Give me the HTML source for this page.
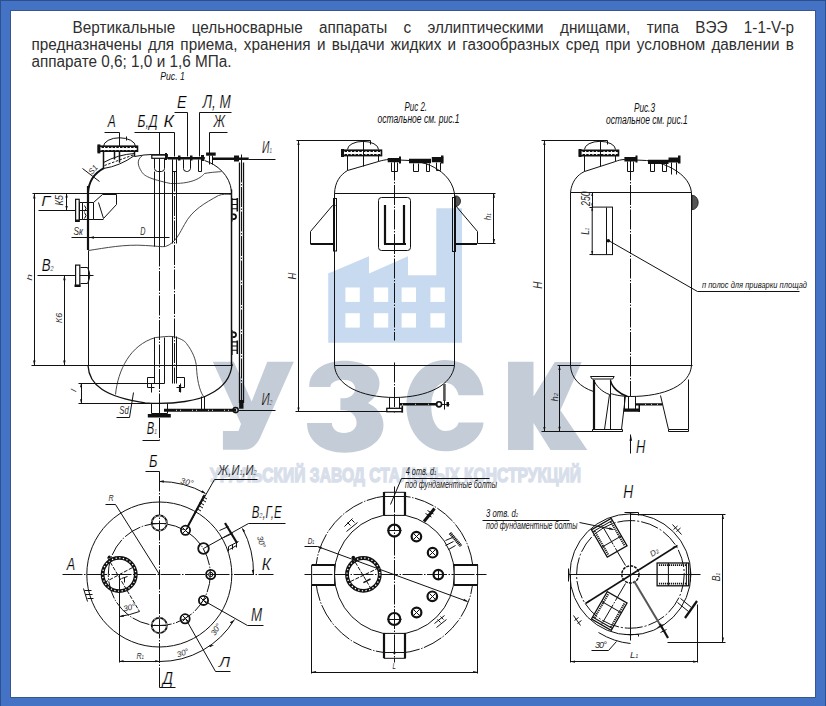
<!DOCTYPE html>
<html><head><meta charset="utf-8">
<style>
html,body{margin:0;padding:0;width:826px;height:706px;overflow:hidden;background:#4472c4;}
#frame{position:absolute;left:10px;top:10px;width:806px;height:688px;background:#fff;border:1px solid #37588f;box-sizing:border-box;}
#ol{position:absolute;left:0;top:0;width:826px;height:706px;box-sizing:border-box;border-left:1px solid #2c5191;border-top:1px solid #2c4f8c;border-right:1px solid #2c5191;}
#txt{position:absolute;left:31.5px;top:18.6px;width:762.5px;font-family:"Liberation Sans",sans-serif;font-size:15.3px;line-height:15.45px;transform:scaleY(1.1);transform-origin:0 0;color:#2e2e2e;text-align:justify;text-indent:41px;}
svg{position:absolute;left:0;top:0;}
.t{fill:none;stroke:#111;stroke-width:1;}
.t2{fill:none;stroke:#333;stroke-width:0.9;}
.m{fill:none;stroke:#111;stroke-width:1.5;}
.k{fill:none;stroke:#111;stroke-width:2.2;}
.k2{fill:#fff;stroke:#111;stroke-width:1.6;}
.wd{fill:none;stroke:#111;stroke-width:1;}
.dd{fill:none;stroke:#111;stroke-width:1;stroke-dasharray:20,1.5,1.5,1.5;}
.dd2{fill:none;stroke:#fff;stroke-width:1;stroke-dasharray:20,1.5,1.5,1.5;}
.f{fill:#111;stroke:none;}
text{font-family:"Liberation Sans",sans-serif;font-style:italic;fill:#111;}
.big{font-size:15px;fill:#000;stroke:#fff;stroke-width:0.2;}
.sm{font-size:8px;fill:#2a2a2a;}
.lbl{font-size:9px;}
.wm{fill:#c4cdd7;}
.wb{fill:#c8daf0;}
</style></head><body>
<div id="ol"></div><div id="frame"></div>
<svg id="wm" width="826" height="706" viewBox="0 0 826 706"><g>
<!-- building -->
<path class="wb" d="M328.2,273.5 L369,256.3 V273.5 L408,256.3 V275.3 H436.3 V208.3 H462 V342.7 H328.2 Z"/>
<g fill="#fff">
<rect x="345.4" y="287.5" width="14.4" height="14.4"/><rect x="373.8" y="287.5" width="14.4" height="14.4"/><rect x="401.6" y="287.5" width="14.4" height="14.4"/><rect x="430.4" y="287.5" width="14.4" height="14.4"/>
<rect x="345.4" y="313.2" width="14.4" height="14.4"/><rect x="373.8" y="313.2" width="14.4" height="14.4"/><rect x="401.6" y="313.2" width="14.4" height="14.4"/><rect x="430.4" y="313.2" width="14.4" height="14.4"/>
</g>
<!-- letters -->
<path class="wm" d="M212.8,361.7 H233.8 L251.7,401.4 L267.3,361.7 H293.8 L260,438 C256,446 251,449.7 243,449.7 H222.9 V431 H238.5 L241,424 Z"/>
<path class="wm" d="M309.2,386.9 C309.2,370 325,360.7 344.5,360.7 C365,360.7 379.5,370 379.5,383 C379.5,392 374,399 368,403 C376,407 383.5,414 383.5,425 C383.5,442 366,452.7 345,452.7 C322,452.7 307,441 307,423 H331.9 C331.9,429 337,433 344,433 C351,433 356.6,429 356.6,423 C356.6,416 351,410.2 344,410.2 H340.4 V398.2 H344 C350,398.2 355.2,394 355.2,389 C355.2,383 350,379.8 343,379.8 C336,379.8 330.4,383 330.4,386.9 Z"/>
<path class="wm" d="M483.5,395.2 C483,374 466,360.1 445,360.1 C423,360.1 406.4,380 406.4,405.7 C406.4,431 423,451.3 445,451.3 C466,451.3 483,437 483.5,422.5 H458.6 C457,428 452,431 445,431 C437,431 431.3,420 431.3,406.8 C431.3,393 437,382.7 445,382.7 C452,382.7 457,388 458.6,395.2 Z"/>
<path class="wm" d="M508,361.7 H533.5 V396.5 L554.8,362.1 H581.7 L560.4,410.3 L587.3,450 H550.5 L533.5,423 V450 H508 Z"/>
<text x="210" y="482" textLength="371" lengthAdjust="spacingAndGlyphs" style="font-family:'Liberation Sans';font-style:normal;font-weight:bold;font-size:20.5px;fill:#d8dfeb;stroke:#d8dfeb;stroke-width:1.4">УРАЛЬСКИЙ ЗАВОД СТАЛЬНЫХ КОНСТРУКЦИЙ</text>
</g>
</svg>
<div id="txt">Вертикальные цельносварные аппараты с эллиптическими днищами, типа ВЭЭ 1-1-V-р предназначены для приема, хранения и выдачи жидких и газообразных сред при условном давлении в аппарате 0,6; 1,0 и 1,6 МПа.</div>
<svg width="826" height="706" viewBox="0 0 826 706">
<!-- FIG 1 -->
<g id="fig1">
<text class="lbl" x="160.3" y="79.9" style="font-size:11.8px" textLength="24.5" lengthAdjust="spacingAndGlyphs">Рис. 1</text>
<!-- labels -->
<text class="big" x="107.7" y="127.0" style="font-size:16.4px" textLength="8.0" lengthAdjust="spacingAndGlyphs">А</text>
<text class="big" x="137.6" y="127.0" style="font-size:17.4px" textLength="19.9" lengthAdjust="spacingAndGlyphs">Б,Д</text>
<text class="big" x="163.6" y="127.0" style="font-size:17.4px" textLength="10.3" lengthAdjust="spacingAndGlyphs">К</text>
<text class="big" x="177.1" y="107.8" style="font-size:17.3px" textLength="9.6" lengthAdjust="spacingAndGlyphs">Е</text>
<text class="big" x="202.7" y="107.8" style="font-size:17.6px" textLength="28.0" lengthAdjust="spacingAndGlyphs">Л, М</text>
<text class="big" x="213.4" y="127.0" style="font-size:17.3px" textLength="11.5" lengthAdjust="spacingAndGlyphs">Ж</text>
<text class="big" x="262.0" y="153.4" style="font-size:16.3px" textLength="9.9" lengthAdjust="spacingAndGlyphs">И<tspan style="font-size:7px">1</tspan></text>
<!-- leaders -->
<path class="t" d="M 104.5 132.5 H 119.5 V 162.5 M 134.5 132.5 H 174.5 M 159.5 132.5 V 246.5 M 174.5 132.5 V 156.5 M 174.5 112.5 H 187.5 V 156.5 M 199.5 112.5 H 231.5 M 199.5 112.5 V 156.5 M 209.5 132.5 H 227.5 M 209.5 132.5 V 153.5"/>
<!-- manhole A -->
<path class="t" d="M 103.5 146.5 A 15.6 8.5 0 0 1 135.5 146.5"/>
<path class="t" d="M 126.5 136.5 V 140.5"/>
<rect class="k2" x="98.5" y="146.2" width="39" height="5"/>
<path class="f" d="M97.4,144.4h3v9h-3z"/>
<path class="wd" d="M 101.5 147.5 H 137.5 M 101.5 150.5 H 137.5" stroke-dasharray="2.5,1.2"/>
<path class="m" d="M 103.5 151.5 V 168.5 M 134.5 151.5 V 156.5 M 114.5 151.5 V 159.5 M 119.5 151.5 V 162.5"/>
<path class="t" d="M 103.5 168.5 Q 120 166 134.5 155.5 M 103.5 162.5 Q 118 154.5 134.5 153.5"/>
<path class="t" d="M 104.5 165.5 L 134.5 154.5" stroke-dasharray="2.5,1.5"/>
<!-- head left -->
<path d="M88,193 Q89,176 103.9,168.2" style="fill:none;stroke:#111;stroke-width:1.9"/>
<path class="t" d="M 82.5 168.5 L 99.5 181.5"/>
<text class="sm" transform="translate(92,175) rotate(-50)" x="0" y="0">S1</text>
<!-- head top -->
<path class="t" d="M 134.5 156.5 Q 145 154.5 151.5 154.5 M 204.5 160.5 C 217 164.5 230 175 231.5 191.5 L 231.5 193.5"/>
<!-- break lines -->
<path class="t2" d="M 142.5 155.5 C 136 160 138 166 141.5 171.5 C 144 176 150 179 170.5 183.5 C 190 184 200 179 204.5 173.5 C 212 172 219 172 221.5 171.5"/>
<!-- top plate & nozzles -->
<rect x="151.8" y="154.8" width="15.5" height="3.5" style="fill:#fff;stroke:#111;stroke-width:1.2"/><path class="f" d="M151.3,154.2h16.5v1.3h-16.5z M167.8,157h37v2.5h-37z"/>
<path class="f" d="M165,153h2v7h-2z M178,155.5h2.5v5h-2.5z M190,155.5h2.5v5h-2.5z M201,155h3v6h-3z"/>
<path class="t" d="M 154.5 158.5 V 168.5 Q 154.5 171 157.5 171.5 H 161.5 Q 164.7 171 164.5 168.5 V 158.5 M 172.5 159.5 V 171.5 H 176.5 V 159.5 M 183.5 159.5 V 168.5 Q 183.1 171 186.5 171.5 H 187.5 Q 190.2 171 190.5 168.5 V 159.5 M 198.5 159.5 V 171.5 H 201.5 V 159.5"/>
<!-- Zh nozzle and I1 line -->
<path class="f" d="M206.1,152.5h9.6v3.2h-9.6z"/>
<path class="t" d="M 209.5 155.5 V 164.5 M 212.5 155.5 V 164.5"/>
<path class="f" d="M212.7,157.6h36v2.4h-36z"/>
<path class="f" d="M234,155.5h5v6h-5z"/>
<path class="t" d="M 241.5 154.5 V 163.5 M 248.5 159.5 H 275.5"/>
<!-- walls -->
<path class="k" d="M 88 186 V 250"/>
<path class="t" d="M 88.5 250.5 V 365.5"/>
<path class="m" d="M 231.5 189.5 V 365.5"/>
<!-- horizontals -->
<path class="t" d="M 32.5 193.5 H 231.5 M 37.5 275.5 H 93.5 M 31.5 365.5 H 232.5 M 38.5 210.5 H 88.5 M 71.5 237.5 H 169.5"/>
<!-- nozzle G -->
<rect x="75.6" y="199.3" width="3.6" height="22" style="fill:#fff;stroke:#111;stroke-width:1.2"/><path class="f" d="M75,219.5h4.5v2.5h-4.5z"/>
<path class="t" d="M 79.5 202.5 h 3 v 17 h -3 z  M 82.5 202.5 H 93.5 V 219.5 H 82.5 M 93.5 202.5 L 102.5 194.5 M 93.5 219.5 H 103.5 M 98.5 202.5 L 103.5 218.5 L 116.5 204.5 V 194.5 M 102.5 194.5 H 116.5"/>
<path class="t" d="M 84.5 205.5 q 3 3 0 6 M 84.5 212.5 q 3 3 0 6"/>
<text class="big" x="41.2" y="205.6" style="font-size:14.6px" textLength="9.0" lengthAdjust="spacingAndGlyphs">Г</text>
<text class="sm" transform="translate(63.2,205.6) rotate(-90)" x="0" y="0" style="font-size:10.9px" textLength="10.6" lengthAdjust="spacingAndGlyphs">К5</text>
<path class="t" d="M 34.5 193.5 V 365.5 M 66.5 193.5 V 210.5 M 64.5 275.5 V 365.5"/>
<path class="f" d="M34.3,193.5l-1.2,5h2.4z M66.6,193.5l-1.2,4h2.4z M66.6,210l-1.2,-4h2.4z M64.4,275.2l-1.2,5h2.4z M34.3,365.5l-1.2,-5h2.4z M64.4,365.5l-1.2,-5h2.4z"/>
<text class="sm" x="73.4" y="235.4" style="font-size:11.0px" textLength="9.4" lengthAdjust="spacingAndGlyphs">Sк</text>
<path class="f" d="M89,237.5l5,-1.2v2.4z"/>
<text class="sm" x="140.3" y="235.0" style="font-size:10.0px" textLength="5.2" lengthAdjust="spacingAndGlyphs">D</text>
<!-- break line upper body -->
<path class="t2" d="M 88.5 250.5 C 105 248 125 244 145.5 245.5 C 155 246 162 247 165.5 246.5 C 176 243 180 232 184.5 224.5 C 192 210 205 203 218.5 195.5 C 222 194 227 194 231.5 194.5"/>
<!-- V2 nozzle -->
<rect x="75.6" y="265.1" width="4.2" height="21" style="fill:#fff;stroke:#111;stroke-width:1.2"/><path class="f" d="M74.5,284.5h6v2.5h-6z"/>
<path class="t" d="M 80.5 267.5 H 87.5 M 80.5 283.5 H 87.5 M 87.5 267.5 Q 92 275 87.5 283.5"/>
<text class="big" x="41.7" y="271.4" style="font-size:17.0px" textLength="11.9" lengthAdjust="spacingAndGlyphs">В<tspan style="font-size:7px">2</tspan></text>
<text class="sm" transform="translate(31.8,280.8) rotate(-90)" x="0" y="0" style="font-size:8.0px" textLength="6.8" lengthAdjust="spacingAndGlyphs">h</text>
<text class="sm" transform="translate(62.4,323.0) rotate(-90)" x="0" y="0" style="font-size:9.7px" textLength="10.0" lengthAdjust="spacingAndGlyphs">К6</text>
<!-- bottom head -->
<path d="M88,365.5 C89,385 105,397 145,402.9 C175,405 200,400 210,394 C222,388 231,378 232,364" style="fill:none;stroke:#111;stroke-width:1.3"/>
<path class="t2" d="M 115.5 394.5 C 118 370 130 345 155.5 337.5 C 162 337 168 336 172.5 336.5 C 180 338 185 341 186.5 343.5 C 193 352 196 360 196.5 367.5 C 197 378 199 390 203.5 396.5"/>
<!-- l dim -->
<path class="t" d="M 78.5 383.5 H 164.5 M 78.5 403.5 H 150.5 M 81.5 383.5 V 403.5"/>
<path class="f" d="M81.1,383.3l-1.1,4h2.2z M81.1,403.2l-1.1,-4h2.2z"/>
<text class="sm" transform="translate(76,392) rotate(-75)" x="0" y="0">l</text>
<text class="sm" x="119.3" y="414.2" style="font-size:10.3px" textLength="9.4" lengthAdjust="spacingAndGlyphs">Sd</text>
<path class="t" d="M 116.5 417.5 H 129.5 L 133.5 392.5"/>
<!-- internal pipes -->
<path class="t" d="M 154.5 171.5 V 246.5 M 164.5 171.5 V 246.5 M 154.5 337.5 V 383.5 M 164.5 337.5 V 383.5 M 172.5 336.5 V 383.5 M 176.5 336.5 V 383.5 M 172.5 159.5 V 243.5 M 176.5 159.5 V 243.5"/>
<path class="dd" d="M 159.5 246.5 V 440.5 M 174.5 171.5 V 383.5"/>
<path class="t" d="M 147.5 377.5 H 154.5 M 147.5 377.5 V 387.5 H 154.5 M 151.5 383.5 V 392.5 M 176.5 377.5 H 184.5 V 387.5 H 176.5 M 180.5 383.5 V 392.5"/>
<path class="k" d="M 180 385 V 392"/>
<!-- bottom nozzle B1 -->
<path class="t" d="M 151.5 403.5 V 413.5 H 167.5 V 403.5"/>
<path class="f" d="M147.8,414h23v3.5h-23z"/>
<path class="f" d="M164,408.8h72v3h-72z"/><path d="M176,410.3H232" style="stroke:#fff;stroke-width:0.9;stroke-dasharray:1,3,1,11"/>
<path class="t" d="M 201.5 396.5 V 409.5 M 204.5 396.5 H 204.5 V 409.5"/>
<circle class="t" cx="235.6" cy="410.1" r="2.6" style="stroke-width:1.4"/>
<path class="t" d="M 238.5 410.5 H 252.5"/>
<text class="big" x="146.7" y="433.7" style="font-size:15.9px" textLength="10.2" lengthAdjust="spacingAndGlyphs">В<tspan style="font-size:7px">1</tspan></text>
<path class="t" d="M 142.5 440.5 H 159.5"/>
<text class="big" x="261.4" y="405.0" style="font-size:15.7px" textLength="11.0" lengthAdjust="spacingAndGlyphs">И<tspan style="font-size:7px">2</tspan></text>
<path class="t" d="M 244.5 410.5 H 275.5"/>
<!-- level gauge -->
<path d="M239.5,162.6V403 M243.5,162.6V403" style="fill:none;stroke:#111;stroke-width:1.3"/>
<path class="dd" d="M 241.5 162.5 V 400.5"/>
<path class="f" d="M236.5,198h1.6v13.6h-1.6z M231,198h1.6v23.6h-1.6z M232.5,198.8h4v1.3h-4z M232.5,204h4v1.1h-4z M232.5,208.2h4v1.1h-4z"/>
<path d="M232.5,214.2 a3.6,2.5 0 0 1 0,5" style="fill:none;stroke:#111;stroke-width:1.7"/>
</g>
<g id="fig1b">
<path class="f" d="M236.5,340.5h1.6v13.6h-1.6z M231,330h1.6v25h-1.6z M232.5,341.3h4v1.3h-4z M232.5,345.5h4v1.1h-4z M232.5,349.7h4v1.1h-4z"/>
<path d="M232.5,332.2 a3.6,2.5 0 0 1 0,5" style="fill:none;stroke:#111;stroke-width:1.7"/>
<path class="f" d="M239.1,400h4.4v8.7h-4.4z"/>

</g>
<!-- FIG 2 -->
<g id="fig2">
<text class="lbl" x="404.5" y="110.9" style="font-size:12px" textLength="22.5" lengthAdjust="spacingAndGlyphs">Рис 2.</text>
<text class="lbl" x="377.5" y="123.2" style="font-size:12px" textLength="82.0" lengthAdjust="spacingAndGlyphs">остальное см. рис.1</text>
<!-- H dim -->
<path class="t" d="M 298.5 140.5 V 411.5 M 296.5 140.5 H 370.5 V 144.5 M 295.5 411.5 H 402.5"/>
<path class="f" d="M298.5,140.6l-1.1,4.5h2.2z M298.5,411.9l-1.1,-4.5h2.2z"/>
<text class="sm" transform="translate(295.7,279.5) rotate(-90)" x="0" y="0" style="font-size:11.1px" textLength="6.8" lengthAdjust="spacingAndGlyphs">H</text>
<!-- manhole -->
<path class="t" d="M 347.5 149.5 A 15.3 8 0 0 1 378.5 149.5"/>
<rect class="k2" x="342" y="150.2" width="39.5" height="5.4"/>
<path class="f" d="M341,149h3v8h-3z"/>
<path class="wd" d="M 344.5 151.5 H 381.5 M 344.5 154.5 H 381.5" stroke-dasharray="2.5,1.2"/>
<path class="t" d="M 347.5 155.5 V 170.5 M 378.5 155.5 V 161.5 M 363.5 141.5 V 166.5"/>
<!-- head -->
<path class="t" d="M 334.5 193.5 C 335 182 340 175 347.5 170.5 L 378.5 161.5 C 382 160.3 386 159.7 388.5 159.5 L 409.5 160.5 C 418 161.5 425 163 430.5 165.5 C 440 170 452 178 454.5 193.5"/>
<path class="t" d="M 334.5 193.5 H 495.5"/>
<!-- nozzles -->
<path class="f" d="M387.7,158h12.7v4.2h-12.7z M399,156.5h2v7h-2z"/>
<path class="t" d="M 391.5 162.5 V 171.5 H 397.5 V 162.5"/>
<path class="f" d="M409,158.8h22v4.5h-22z M431.8,157h11.8v5.2h-11.8z M441,155.5h2.5v8h-2.5z"/>
<path class="t" d="M 413.5 163.5 V 171.5 H 418.5 V 163.5 M 426.5 163.5 V 171.5 H 429.5 V 163.5 M 436.5 162.5 V 170.5 H 440.5 V 162.5"/>
<!-- walls -->
<path class="t" d="M 334.5 193.5 V 365.5 M 454.5 193.5 V 365.5"/>
<path class="dd" d="M 394.5 160.5 V 340.5 M 394.5 362.5 V 412.5"/>
<!-- lugs -->
<rect x="333.5" y="198.5" width="3" height="52.5" style="fill:none;stroke:#111;stroke-width:1"/><rect x="452.5" y="197.5" width="3" height="54" style="fill:none;stroke:#111;stroke-width:1"/>

<path class="t" d="M 332.5 205.5 H 335.5 M 332.5 205.5 L 310.5 231.5 V 244.5 M 455.5 205.5 L 477.5 231.5 V 243.5"/>
<path class="k" d="M 311 244 H 335 M 455 244 H 477"/>
<path d="M455.5,195.8 a5,5.3 0 0 1 0,10.6z" style="fill:#555;stroke:#111;stroke-width:0.8"/>
<!-- window -->
<rect class="t" x="378.5" y="197.5" width="32" height="53" rx="3"/>
<path class="k" d="M 385 205 V 244 M 404 205 V 244 M 384 244 H 406"/>
<!-- h1 dim -->
<path class="t" d="M 493.5 193.5 V 243.5 M 477.5 243.5 H 495.5"/>
<path class="f" d="M493.9,193.3l-1.1,4.5h2.2z M493.9,243.6l-1.1,-4.5h2.2z"/>
<text class="sm" transform="translate(491.2,220.3) rotate(-90)" x="0" y="0" style="font-size:9.0px" textLength="7.3" lengthAdjust="spacingAndGlyphs">h<tspan style="font-size:5.5px">1</tspan></text>
<!-- bottom -->
<path class="t" d="M 334.5 365.5 H 454.5 M 334.5 365.5 C 336 385 360 397.3 394.5 397.5 C 428 397.3 452 385 454.5 365.5"/>
<path class="t" d="M 389.5 397.5 V 408.5 M 399.5 397.5 V 408.5"/>
<rect x="386.8" y="408.3" width="15.4" height="3.4" style="fill:#fff;stroke:#111;stroke-width:1.3"/>
<path class="f" d="M399.4,403h38v2.5h-38z M401.5,405v7.5h1.6v-7.5z"/>
<path d="M402,404.3H436" style="stroke:#fff;stroke-width:0.8;stroke-dasharray:1,12"/>
<circle cx="439" cy="404.3" r="2.6" style="fill:none;stroke:#111;stroke-width:1.6"/>
<path d="M444.4,384V401" style="stroke:#555;stroke-width:2.6"/>
<path class="t" d="M 441.5 404.5 H 449.5 M 444.5 400.5 V 409.5"/>
<path class="f" d="M446.5,402h2.5v4.5h-2.5z"/>
</g>
<!-- FIG 3 -->
<g id="fig3">
<text class="lbl" x="633.9" y="111.7" style="font-size:12px" textLength="21.1" lengthAdjust="spacingAndGlyphs">Рис.3</text>
<text class="lbl" x="606.0" y="124.1" style="font-size:12px" textLength="81.8" lengthAdjust="spacingAndGlyphs">остальное см. рис.1</text>
<!-- H dim -->
<path class="t" d="M 544.5 140.5 V 431.5 M 541.5 140.5 H 607.5 V 144.5 M 541.5 431.5 H 622.5"/>
<path class="f" d="M544.4,140.5l-1.1,4.5h2.2z M544.4,431.5l-1.1,-4.5h2.2z"/>
<text class="sm" transform="translate(541.7,288.7) rotate(-90)" x="0" y="0" style="font-size:12.1px" textLength="7.2" lengthAdjust="spacingAndGlyphs">H</text>
<!-- manhole -->
<path class="t" d="M 584.5 149.5 A 15.2 8 0 0 1 615.5 149.5"/>
<rect class="k2" x="579.5" y="150.3" width="39" height="5.4"/>
<path class="f" d="M578.6,149h3v8h-3z"/>
<path class="wd" d="M 582.5 151.5 H 618.5 M 582.5 154.5 H 618.5" stroke-dasharray="2.5,1.2"/>
<path class="t" d="M 584.5 155.5 V 171.5 M 615.5 155.5 V 161.5 M 600.5 141.5 V 166.5"/>
<!-- head -->
<path class="t" d="M 570.5 192.5 C 571.5 182 577 175 584.5 171.5 L 615.5 161.5 C 618 160.3 621 159.7 624.5 159.5 L 646.5 160.5 C 655 161.5 662 163.5 668.5 166.5 C 680 172 690 180 691.5 192.5"/>
<path class="t" d="M 570.5 192.5 H 691.5"/>
<!-- nozzles -->
<path class="f" d="M624.4,157.1h12.7v4.3h-12.7z M635.5,155.5h2v7h-2z"/>
<path class="t" d="M 627.5 161.5 V 171.5 H 633.5 V 161.5"/>
<path class="f" d="M648,159.7h20.5v4.2h-20.5z M668.5,157.5h11v5h-11z M678,155.5h2.5v8h-2.5z"/>
<path class="t" d="M 650.5 163.5 V 171.5 H 654.5 V 163.5 M 662.5 163.5 V 171.5 H 666.5 V 163.5 M 671.5 162.5 V 174.5 M 676.5 162.5 V 174.5"/>
<!-- walls -->
<path class="t" d="M 570.5 192.5 V 365.5 M 691.5 192.5 V 365.5"/>
<path class="dd" d="M 630.5 160.5 V 396.5"/>
<path d="M692,195.3 a6.2,7.2 0 0 1 0,14.4z" style="fill:#555;stroke:#111;stroke-width:0.8"/>
<!-- 250 / L1 plate -->
<rect class="t" x="592.2" y="207.1" width="20.3" height="47.5"/>
<path class="t" d="M 606.5 207.5 V 254.5 M 592.5 192.5 V 207.5 M 589.5 207.5 H 592.5 M 589.5 254.5 H 592.5"/>
<path class="f" d="M592.2,192.6l-1,3.5h2z M592.2,207l-1,-3.5h2z M592.2,207.3l-1,3.5h2z M592.2,254.4l-1,-3.5h2z"/>
<text class="sm" transform="translate(589.8,206.0) rotate(-90)" x="0" y="0" style="font-size:12.3px" textLength="14.8" lengthAdjust="spacingAndGlyphs">250</text>
<text class="sm" transform="translate(589.4,234.8) rotate(-90)" x="0" y="0" style="font-size:11.1px" textLength="7.0" lengthAdjust="spacingAndGlyphs">L<tspan style="font-size:5.5px">1</tspan></text>
<circle class="f" cx="608.3" cy="240.7" r="1.8"/>
<path class="t" d="M 608.5 240.5 L 697.5 291.5 H 799.5"/>
<text class="lbl" x="702" y="288.3" textLength="105" lengthAdjust="spacingAndGlyphs">п полос для приварки площад</text>
<!-- bottom -->
<path class="t" d="M 570.5 365.5 H 692.5"/>
<path class="t" d="M 570.5 365.5 C 571 378 580 387 593.5 391.5 M 691.5 365.5 C 690 385 665 396.5 630.5 396.5 C 620 396.5 612 394 610.5 393.5"/>
<path class="m" d="M 610.5 380.5 C 612 388 620 394 627.5 396.5"/>
<path d="M590.5,376.5H614.2L612.7,379H592Z" style="fill:#fff;stroke:#111;stroke-width:1"/>
<path class="k" d="M 594 380 V 430"/>
<path class="t" d="M 610.5 379.5 V 429.5 M 609.5 394.5 L 604.5 429.5 M 625.5 395.5 L 621.5 429.5 M 660.5 395.5 L 668.5 429.5 M 688.5 379.5 V 429.5"/>
<path class="t" d="M 593.5 379.5 C 596 386 602 392 609.5 394.5"/>
<path d="M592.5,429.5H622.5V431.5H592.5Z M668.5,429.5H688.5V431.5H668.5Z" style="fill:#fff;stroke:#111;stroke-width:1"/>
<path class="t" d="M 624.5 396.5 V 409.5 H 635.5 V 396.5 M 628.5 396.5 V 409.5"/>
<path class="f" d="M623.6,408.4h16v3.4h-16z M635.4,403.3h27v2.2h-27z M638.5,405h1.5v7h-1.5z"/><path d="M645,404.4H660" style="stroke:#fff;stroke-width:0.8;stroke-dasharray:1,5"/>
<!-- h2 dim -->
<path class="t" d="M 559.5 365.5 V 431.5 M 557.5 365.5 H 570.5"/>
<path class="f" d="M559.5,365.5l-1.1,4.5h2.2z M559.5,431.3l-1.1,-4.5h2.2z"/>
<text class="sm" transform="translate(557.5,401.4) rotate(-90)" x="0" y="0" style="font-size:9.5px" textLength="8.4" lengthAdjust="spacingAndGlyphs">h<tspan style="font-size:5.5px">2</tspan></text>
<!-- H arrow -->
<path class="t" d="M 630.5 434.5 V 453.5"/>
<path class="f" d="M630.8,434.7l-1.3,6h2.6z"/>
<text class="big" x="636.0" y="452.5" style="font-size:18.3px" textLength="9.3" lengthAdjust="spacingAndGlyphs">Н</text>
</g>
<!-- PLAN 1 -->
<g id="plan1">
<path class="dd" d="M 62.5 574.5 H 273.5 M 159.5 471.5 V 687.5"/>
<path class="t" d="M 145.5 471.5 H 159.5 M 159.5 687.5 H 175.5"/>
<text class="big" x="149.0" y="467.0" style="font-size:15.7px" textLength="8.5" lengthAdjust="spacingAndGlyphs">Б</text>
<text class="big" x="162.7" y="684.2" style="font-size:17.1px" textLength="10.2" lengthAdjust="spacingAndGlyphs">Д</text>
<text class="big" x="66.7" y="570.0" style="font-size:16.0px" textLength="8.4" lengthAdjust="spacingAndGlyphs">А</text>
<text class="big" x="261.7" y="570.0" style="font-size:17.1px" textLength="9.0" lengthAdjust="spacingAndGlyphs">К</text>
<circle class="t" cx="159.3" cy="574.5" r="72.5"/>
<circle class="dd" cx="159.3" cy="574.5" r="51" style="stroke-dasharray:18,1.5,1.5,1.5"/>
<!-- R -->
<path class="t" d="M 105.5 504.5 H 115.5 L 159.5 574.5"/>
<text class="sm" x="108.5" y="501.0" style="font-size:8.6px" textLength="5.1" lengthAdjust="spacingAndGlyphs">R</text>
<!-- manhole -->
<circle cx="119.2" cy="574.5" r="16.6" style="fill:none;stroke:#111;stroke-width:3.8"/>
<circle cx="119.2" cy="574.5" r="16.6" style="fill:none;stroke:#fff;stroke-width:1.3;stroke-dasharray:1.3,2.4"/>
<path class="t" d="M 107.5 557.5 L 139.5 611.5 M 104.5 582.5 L 134.5 566.5" stroke-dasharray="4,1.5"/>
<circle class="f" cx="109.3" cy="557" r="1.6"/>
<path class="t" d="M 121.5 578.5 L 127.5 576.5 M 124.5 577.5 V 582.5"/>
<path class="t" d="M 119.5 574.5 V 662.5 M 119.5 661.5 H 159.5"/>
<path class="t" d="M 119.5 616.5 Q 130 615 139.5 611.5"/>
<path class="f" d="M119.5,616.5l4,-1.8l0.3,2.2z M159.3,661.2l-4,-1.1v2.2z M119.5,661.2l4,-1.1v2.2z"/>
<text class="sm" transform="translate(124,611.4) rotate(-12)" x="0" y="0" textLength="12">30°</text>
<text class="sm" x="136.5" y="659.0" style="font-size:9.0px" textLength="7.5" lengthAdjust="spacingAndGlyphs">R<tspan style="font-size:5.5px">1</tspan></text>
<!-- ladders -->
<path class="t" d="M 83.5 588.5 L 87.5 601.5 M 84.5 590.5 H 91.5 M 85.5 594.5 H 92.5 M 87.5 598.5 H 93.5"/>
<!-- nozzles -->
<g style="fill:none;stroke:#111;stroke-width:1.8">
<circle cx="159.3" cy="523" r="7.6"/><circle cx="159.3" cy="625.5" r="7.6"/>
<circle cx="185.5" cy="530.3" r="4.6"/><circle cx="203.5" cy="548.5" r="5.3"/><circle cx="210.7" cy="574.5" r="4.6"/>
<circle cx="203.5" cy="600.4" r="4.6"/><circle cx="185.1" cy="618.8" r="4.6"/>
</g>
<circle class="t" cx="210.7" cy="574.5" r="2.2"/>
<path class="t" d="M 151.5 523.5 H 167.5 M 151.5 625.5 H 167.5 M 200.5 597.5 l 6 6 M 200.5 603.5 l 6 -6 M 182.5 615.5 l 6 6 M 182.5 621.5 l 6 -6 M 182.5 527.5 l 6 6 M 182.5 533.5 l 6 -6"/>
<circle cx="159.3" cy="523" r="7.6" style="fill:none;stroke:#fff;stroke-width:0.7;stroke-dasharray:2,3"/>
<circle cx="159.3" cy="625.5" r="7.6" style="fill:none;stroke:#fff;stroke-width:0.7;stroke-dasharray:2,3"/>
<!-- 30 arcs -->
<path class="t" d="M 159.5 481.5 A 93.2 93.2 0 0 1 205.5 493.5 M 242.5 528.5 A 94 94 0 0 1 253.5 574.5 M 159.5 661.5 A 87.3 87.3 0 0 0 234.5 619.5"/>
<path class="f" d="M159.3,481.3l4.5,-1.1v2.6z M205.5,493.6l-4.2,-1.2l1.2,-2.2z M253.1,574.5l-1.3,-4.5l2.5,-0.2z M242.2,528.3l1,4l2,-1.2z M234,620l-2.4,3.7l-1.8,-1.5z M214,645l-4,2.2l-1,-2z"/>
<text class="sm" transform="translate(180,483) rotate(14)" x="0" y="0" textLength="13">30°</text>
<text class="sm" transform="translate(257,537) rotate(72)" x="0" y="0" textLength="12">30°</text>
<text class="sm" transform="translate(178,657.5) rotate(-20)" x="0" y="0" textLength="12">30°</text>
<text class="sm" transform="translate(215,636) rotate(-58)" x="0" y="0" textLength="12">30°</text>
<!-- leaders -->
<path class="t" d="M 185.5 530.5 L 214.5 479.5 H 257.5 M 203.5 548.5 L 248.5 523.5 H 285.5 M 203.5 600.5 L 247.5 625.5 H 263.5 M 185.5 618.5 L 215.5 671.5 H 230.5"/>
<path d="M187.5,527L204.5,495" style="fill:none;stroke:#111;stroke-width:2"/>
<path class="t" d="M 196.5 508.5 l 4.5 2.5 M 198.5 505.5 l 4.5 2.5 M 199.5 502.5 l 4.5 2.5 M 201.5 499.5 l 4.5 2.5 M 202.5 496.5 l 4.5 2.5"/>
<text class="big" x="218.1" y="474.8" style="font-size:14.1px" textLength="38.6" lengthAdjust="spacingAndGlyphs">Ж,И<tspan style="font-size:7px">1</tspan>,И<tspan style="font-size:7px">2</tspan></text>
<text class="big" x="251.8" y="518.4" style="font-size:15.6px" textLength="29.8" lengthAdjust="spacingAndGlyphs">В<tspan style="font-size:7px">2</tspan>,Г,Е</text>
<text class="big" x="251.1" y="620.6" style="font-size:18.3px" textLength="11.1" lengthAdjust="spacingAndGlyphs">М</text>
<text class="big" x="218.9" y="666.7" style="font-size:14.4px" textLength="11.1" lengthAdjust="spacingAndGlyphs">Л</text>
<!-- flange symbol -->
<path class="k" d="M 225 523 L 237 543"/>
<path class="t" d="M 219.5 530.5 L 228.5 526.5 M 223.5 537.5 L 232.5 533.5"/>
<path class="t" d="M 228.5 546.5 L 238.5 541.5 M 229.5 549.5 L 236.5 545.5 M 228.5 546.5 V 551.5 M 232.5 544.5 V 549.5 M 236.5 542.5 V 547.5"/>
</g>
<!-- PLAN 2 -->
<g id="plan2">
<path class="dd" d="M 304.5 574.5 H 486.5 M 394.5 486.5 V 662.5"/>
<circle class="t" cx="394.4" cy="574.4" r="60"/>
<circle class="dd" cx="394.4" cy="574.4" r="78.9" style="stroke-dasharray:20,1.5,1.5,1.5"/>
<!-- lugs -->
<path style="fill:#fff;stroke:#111;stroke-width:1" d="M383.9,492.3H405.5V515.4H383.9Z M383.9,633.4H405.5V658.3H383.9Z M311.6,564.9H334.6V584.7H311.6Z M454.2,564.9H477.6V584.7H454.2Z"/>
<path class="k" d="M 384 492 V 515 M 405 492 V 515 M 384 633 V 658 M 405 633 V 658 M 312 565 H 335 M 312 585 H 335 M 454 565 H 478 M 454 585 H 478"/>
<path class="t" d="M 383.5 496.5 H 405.5 M 383.5 652.5 H 405.5"/>
<path class="dd" d="M 394.5 492.5 V 515.5 M 394.5 634.5 V 658.5 M 312.5 574.5 H 335.5 M 454.5 574.5 H 477.5"/>
<circle class="f" cx="394.4" cy="652.8" r="1.2"/>
<!-- manhole -->
<circle cx="363.4" cy="574.4" r="16.4" style="fill:none;stroke:#111;stroke-width:3.8"/>
<circle cx="363.4" cy="574.4" r="16.4" style="fill:none;stroke:#fff;stroke-width:1.3;stroke-dasharray:1.3,2.4"/>
<path class="t" d="M 352.5 557.5 L 371.5 589.5 M 350.5 581.5 L 377.5 568.5" stroke-dasharray="4,1.5"/>
<path d="M363.4,582.6L370.5,579" style="stroke:#111;stroke-width:1.5"/>
<circle class="f" cx="353.3" cy="557.6" r="1.8"/>
<!-- nozzles -->
<g style="fill:none;stroke:#111;stroke-width:2.2">
<circle cx="394.3" cy="530.6" r="6"/><circle cx="394.3" cy="619" r="6"/>
<circle cx="416.4" cy="536.6" r="4.8"/><circle cx="432.6" cy="552.7" r="4.8"/><circle cx="438.3" cy="574.6" r="4.8"/>
<circle cx="432.3" cy="596.3" r="4.8"/><circle cx="416.6" cy="612.5" r="4.8"/>
</g>
<path class="t" d="M 387.5 530.5 H 401.5 M 387.5 619.5 H 401.5 M 413.5 533.5 l 6 6 M 413.5 539.5 l 6 -6 M 429.5 549.5 l 6 6 M 429.5 555.5 l 6 -6 M 429.5 593.5 l 6 6 M 429.5 599.5 l 6 -6 M 413.5 609.5 l 6 6 M 413.5 615.5 l 6 -6 M 438.5 569.5 V 579.5"/>
<!-- D1 -->
<path class="t" d="M 304.5 546.5 H 317.5 L 467.5 601.5"/>
<path class="f" d="M467.8,601.6l-4.5,-0.6l0.8,-2.2z M317.4,546.5l4.5,0.5l-0.8,2.2z"/>
<text class="sm" x="307.7" y="544.1" style="font-size:9.0px" textLength="6.8" lengthAdjust="spacingAndGlyphs">D<tspan style="font-size:5.5px">1</tspan></text>
<!-- symbols -->
<path class="t" d="M 344.5 526.5 L 352.5 518.5 M 346.5 531.5 L 357.5 522.5 M 347.5 522.5 l 3 3 M 351.5 519.5 l 3 3"/>
<path d="M424,521.5L434.5,508.5" style="fill:none;stroke:#111;stroke-width:3"/>
<path class="t" d="M 425.5 513.5 l 6 3.5 M 427.5 510.5 l 6 3.5"/>
<path d="M450,533L461,546" style="fill:none;stroke:#111;stroke-width:3.2;stroke-dasharray:1.2,0.6"/>
<path class="t" d="M 445.5 540.5 L 452.5 537.5 M 445.5 545.5 L 453.5 541.5 M 448.5 549.5 L 455.5 545.5"/>
<path class="t" d="M 434.5 623.5 L 444.5 615.5 M 436.5 627.5 L 446.5 619.5 M 437.5 619.5 l 3 3 M 440.5 616.5 l 3 3"/>
<!-- L dim -->
<path class="t" d="M 311.5 584.5 V 673.5 M 477.5 584.5 V 673.5 M 311.5 672.5 H 477.5"/>
<path class="f" d="M311.6,672l4.5,-1.1v2.2z M477.6,672l-4.5,-1.1v2.2z"/>
<text class="sm" x="392.6" y="669.2" style="font-size:9.4px" textLength="3.3" lengthAdjust="spacingAndGlyphs">L</text>
<!-- 4 otv -->
<text class="lbl" x="405.7" y="475.4" style="font-size:11px" textLength="30.6" lengthAdjust="spacingAndGlyphs">4 отв. d<tspan style="font-size:6px">1</tspan></text>
<path class="t" d="M 390.5 504.5 L 401.5 478.5 H 489.5"/>
<text class="lbl" x="405.0" y="488.1" style="font-size:11px" textLength="91.9" lengthAdjust="spacingAndGlyphs">под фундаментные болты</text>
</g>
<!-- PLAN 3 -->
<defs>
<g id="leg">
<rect x="-15.8" y="-11.4" width="31.6" height="22.8" style="fill:none;stroke:#111;stroke-width:1.3"/>
<path style="fill:none;stroke:#111;stroke-width:1.8;stroke-dasharray:1.2,0.8" d="M-14,-9.3H14 M-14,9.3H14"/>
<path class="t" d="M -4.5 -11.5 V 11.5 M 13.5 -11.5 V 11.5"/>
</g>
</defs>
<g id="plan3">
<text class="big" x="623.3" y="497.8" style="font-size:18.7px" textLength="9.9" lengthAdjust="spacingAndGlyphs">Н</text>
<path class="t" d="M 568.5 574.5 H 700.5 M 630.5 512.5 V 640.5"/>
<circle class="t" cx="630.4" cy="574.4" r="60.5"/>
<circle class="t" cx="630.4" cy="574.4" r="53.8" style="stroke-dasharray:18,2,2,2"/>
<circle cx="630.4" cy="574.4" r="8.6" style="fill:#fff;stroke:#111;stroke-width:1.5;stroke-dasharray:3,1"/><path class="t" d="M 621.5 574.5 H 639.5 M 630.5 565.5 V 583.5"/>
<path class="dd" d="M 625.5 565.5 L 601.5 524.5 M 625.5 583.5 L 601.5 624.5"/>
<use href="#leg" transform="translate(630.4,574.4) rotate(240) translate(42.3,0)"/>
<use href="#leg" transform="translate(630.4,574.4) rotate(120) translate(42.3,0)"/>
<use href="#leg" transform="translate(630.4,574.4) rotate(0) translate(42.5,0)"/>
<!-- tabs -->
<path class="t" d="M 624.5 512.5 H 638.5 V 515.5 M 568.5 568.5 V 581.5 M 690.5 568.5 V 581.5 M 624.5 634.5 H 638.5 V 636.5"/>
<!-- D2 -->
<path class="m" d="M 585.5 603.5 L 677.5 545.5"/>
<path class="f" d="M585.8,603.1l3.5,-3.2l1,1.8z M677,545.6l-3.5,3.2l-1,-1.8z"/>
<text class="sm" transform="translate(652,557) rotate(-32)" x="0" y="0">D<tspan style="font-size:5.5px">2</tspan></text>
<!-- valve diagonal -->
<path style="fill:none;stroke:#555;stroke-width:2" d="M634,581L662,628"/>
<path class="k" d="M 660 624 L 668 638"/>
<path class="t" d="M 657.5 627.5 l 6 -3 M 660.5 632.5 l 6 -3"/>
<!-- flange symbol -->
<path class="k" d="M 685 618 L 697 601"/>
<path class="t" d="M 677.5 602.5 L 688.5 611.5 M 680.5 598.5 L 691.5 607.5"/>
<path class="t" d="M 672.5 524.5 L 681.5 534.5 M 673.5 529.5 l 4 -3.5 M 676.5 531.5 l 4 -3.5 M 573.5 615.5 L 580.5 625.5 M 574.5 620.5 l 4 -3 M 577.5 623.5 l 4 -3"/>
<!-- B1 dim -->
<path class="t" d="M 630.5 514.5 H 725.5 M 722.5 514.5 V 642.5 M 667.5 642.5 H 725.5"/>
<path class="f" d="M722.9,514.5l-1.1,4.5h2.2z M722.9,642.1l-1.1,-4.5h2.2z"/>
<text class="sm" transform="translate(719.5,581.2) rotate(-90)" x="0" y="0" style="font-size:10.0px" textLength="8.5" lengthAdjust="spacingAndGlyphs">B<tspan style="font-size:5.5px">1</tspan></text>
<!-- L1 dim -->
<path class="t" d="M 570.5 574.5 V 662.5 M 697.5 604.5 V 662.5 M 570.5 661.5 H 697.5"/>
<path class="f" d="M570.5,661.7l4.5,-1.1v2.2z M697.7,661.7l-4.5,-1.1v2.2z"/>
<text class="sm" x="630.0" y="658.0" style="font-size:9.5px" textLength="8.4" lengthAdjust="spacingAndGlyphs">L<tspan style="font-size:5.5px">1</tspan></text>
<!-- 30 -->
<path class="t" d="M 598.5 632.5 Q 614 642 630.5 643.5 M 591.5 650.5 H 608.5 L 616.5 641.5"/>
<text class="sm" x="594.9" y="647.6" textLength="12" style="font-size:9px">30°</text>
<!-- 3 otv -->
<text class="lbl" x="486.1" y="516.8" style="font-size:11px" textLength="32.1" lengthAdjust="spacingAndGlyphs">3 отв. d<tspan style="font-size:6px">2</tspan></text>
<path class="t" d="M 482.5 520.5 H 569.5 M 579.5 522.5 L 613.5 529.5"/>
<path class="f" d="M613.5,529.7l-4.5,-0.3l0.6,-2.2z"/>
<text class="lbl" x="486.1" y="528.7" style="font-size:11px" textLength="91.3" lengthAdjust="spacingAndGlyphs">под фундаментные болты</text>
</g>

</svg>
</body></html>
